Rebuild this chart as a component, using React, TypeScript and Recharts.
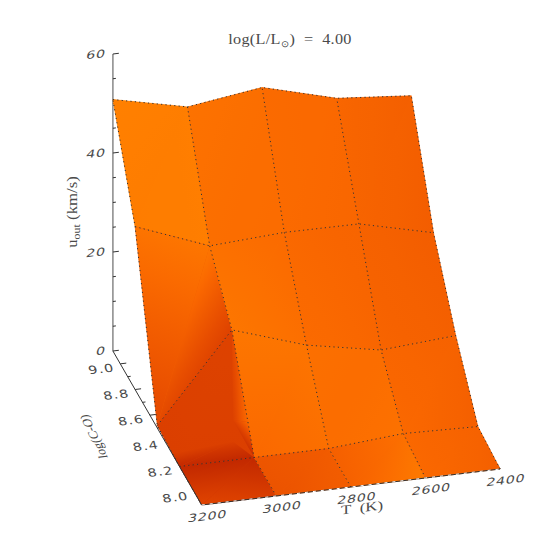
import React from "react";
import { ScatterChart, Scatter, XAxis, YAxis } from "recharts";

const temps = [3200, 3000, 2800, 2600, 2400];
const logCO = [7.9, 8.2, 8.5, 8.8, 9.1];

// outflow velocity (km/s), one list per log(C-O) row, T descending
const uRow79 = [0, 0, 0, 0, 0];
const uRow82 = [0, 0, 0, 1.2, 0.8];
const uRow85 = [0.5, 18, 13.1, 10.3, 11.4];
const uRow88 = [32.9, 27.2, 28.1, 28, 24.4];
const uRow91 = [50.8, 47.5, 49.6, 45.6, 44.3];
const uRows = [uRow79, uRow82, uRow85, uRow88, uRow91];

// lighting per facet, corners: (i,j) (i+1,j) (i+1,j+1) (i,j+1), 0 = darkest, 1 = brightest
const shadeRow0 = [[0.45, 0.35, 0.05, 0.06], [0.6, 0.7, 0.68, 0.62], [0.74, 0.95, 0.86, 0.72], [0.8, 0.72, 0.74, 0.8]];
const shadeRow1 = [[0.38, 0.38, 0.42, 0.38], [0.8, 0.86, 0.9, 0.92], [0.84, 0.88, 0.84, 0.86], [0.8, 0.72, 0.74, 0.78]];
const shadeRow2 = [[0.5, 0.42, 0.92, 0.9], [0.92, 0.86, 0.82, 0.88], [0.82, 0.78, 0.76, 0.8], [0.76, 0.72, 0.7, 0.74]];
const shadeRow3 = [[0.97, 0.98, 0.98, 1], [0.85, 0.83, 0.85, 0.88], [0.82, 0.78, 0.8, 0.82], [0.76, 0.7, 0.72, 0.78]];
const shadeRows = [shadeRow0, shadeRow1, shadeRow2, shadeRow3];

// dark band above the log(C-O)=8.2 row: T, log(C-O), u, shade
const bandLeftTop = [3200, 8.3, 0, 0.38];
const bandRightTop = [3037, 8.3, 1, 0.38];
const bandLeftEnd = [3200, 8.2, 0, 0.06];
const bandRightEnd = [3000, 8.2, 0, 0.05];

// bright strip beside the T=3000 mesh line: T, log(C-O), u, shade
const sheenTop = [3000, 8.5, 18, 0.5];
const sheenMid = [3000, 8.284, 5, 0.82];
const sheenFoot = [3037, 8.3, 5.3, 0.4];
const sheenEnd = [3000, 8.2, 0, 0.12];

const uTicks = [0, 20, 40, 60];
const uMinor = [5, 10, 15, 25, 30, 35, 45, 50, 55];
const logTicks = [8.0, 8.2, 8.4, 8.6, 8.8, 9.0];
const logMinor = [8.1, 8.3, 8.5, 8.7, 8.9];
const tempTicks = [3200, 3000, 2800, 2600, 2400];

const W = 550;
const AXIS_FONT = "'DejaVu Sans', sans-serif";
const TEXT_FONT = "'Liberation Serif', serif";
const TEXT_COLOR = "#4a4a4a";

// fixed oblique view of the (T, log(C-O), u) box
const view = (T: number, lc: number, u: number) => ({
  x: 201.7 + ((3200 - T) / 200) * 74.6 - ((lc - 7.9) / 0.3) * 22.2,
  y: 505 - ((3200 - T) / 200) * 9 - ((lc - 7.9) / 0.3) * 38.5 - u * 4.95,
});

const ramp = (s: number) => {
  const stops = [
    [0, 190, 36],
    [0.5, 228, 72],
    [0.8, 250, 104],
    [1, 255, 128],
  ];
  for (let k = 1; k < stops.length; k++) {
    if (s <= stops[k][0]) {
      const f = (s - stops[k - 1][0]) / (stops[k][0] - stops[k - 1][0]);
      const r = stops[k - 1][1] + f * (stops[k][1] - stops[k - 1][1]);
      const g = stops[k - 1][2] + f * (stops[k][2] - stops[k - 1][2]);
      return `rgb(${Math.round(r)},${Math.round(g)},0)`;
    }
  }
  return "rgb(255,128,0)";
};

const noDot = () => <g />;
const toAttr = (pts: any[]) => pts.map((q) => `${q.x},${q.y}`).join(" ");

// solid quad under each pair of triangles, hides the seam along the diagonal
const baseQuad = (id: string, pts: any[], shade: number) => (
  <Scatter
    key={id}
    data={pts}
    isAnimationActive={false}
    shape={noDot}
    line={(p: any) => <polygon points={toAttr(p.points)} fill={ramp(shade)} stroke={ramp(shade)} strokeWidth={0.5} />}
  />
);

// one shaded triangle: lighting is linear over it, so a single gradient gives the smooth look
const facet = (id: string, pts: any[], shades: number[]) => (
  <Scatter
    key={id}
    data={pts}
    isAnimationActive={false}
    shape={noDot}
    line={(p: any) => {
      const [a, b, c] = p.points;
      const [s0, s1, s2] = shades;
      const det = (b.x - a.x) * (c.y - a.y) - (c.x - a.x) * (b.y - a.y);
      const gx = ((s1 - s0) * (c.y - a.y) - (s2 - s0) * (b.y - a.y)) / det;
      const gy = ((s2 - s0) * (b.x - a.x) - (s1 - s0) * (c.x - a.x)) / det;
      const g2 = gx * gx + gy * gy;
      const lo = Math.min(s0, s1, s2);
      const hi = Math.max(s0, s1, s2);
      if (g2 < 1e-10) {
        return <polygon points={toAttr(p.points)} fill={ramp(s0)} />;
      }
      const fracs = [0, 0.25, 0.5, 0.75, 1];
      return (
        <g>
          <defs>
            <linearGradient
              id={id}
              gradientUnits="userSpaceOnUse"
              x1={a.x + (gx * (lo - s0)) / g2}
              y1={a.y + (gy * (lo - s0)) / g2}
              x2={a.x + (gx * (hi - s0)) / g2}
              y2={a.y + (gy * (hi - s0)) / g2}
            >
              {fracs.map((f) => (
                <stop key={f} offset={f} stopColor={ramp(lo + f * (hi - lo))} />
              ))}
            </linearGradient>
          </defs>
          <polygon points={toAttr(p.points)} fill={`url(#${id})`} />
        </g>
      );
    }}
  />
);

const polyline = (key: string, pts: any[], stroke: string, width = 1, dash?: string) => (
  <Scatter
    key={key}
    data={pts}
    isAnimationActive={false}
    shape={noDot}
    line={{ stroke, strokeWidth: width, strokeDasharray: dash, fill: "none" }}
  />
);

// text placed at a data point; m is the 2x2 part of the transform
const label = (key: string, at: any, text: React.ReactNode, m: number[], dx: number, dy: number, anchor: string, font: string, size: number, spacing = 0) => (
  <Scatter
    key={key}
    data={[at]}
    isAnimationActive={false}
    shape={(p: any) => (
      <text
        transform={`matrix(${m.join(" ")} ${p.cx + dx} ${p.cy + dy})`}
        textAnchor={anchor}
        fontFamily={font}
        fontSize={size}
        letterSpacing={spacing}
        fill={TEXT_COLOR}
      >
        {text}
      </text>
    )}
  />
);

const TILT = [1.3, -0.155, -0.2, 1];
const LOG_TILT = [1.3, -0.155, 0.25, 1];

export default function App() {
  const facets: React.ReactNode[] = [];
  // back to front so nearer facets cover farther ones
  for (let j = 3; j >= 0; j--) {
    for (let i = 0; i < 4; i++) {
      const corners = [
        view(temps[i], logCO[j], uRows[j][i]),
        view(temps[i + 1], logCO[j], uRows[j][i + 1]),
        view(temps[i + 1], logCO[j + 1], uRows[j + 1][i + 1]),
        view(temps[i], logCO[j + 1], uRows[j + 1][i]),
      ];
      const sh = shadeRows[j][i];
      facets.push(baseQuad(`b${j}${i}`, corners, (sh[0] + sh[1] + sh[2] + sh[3]) / 4));
      facets.push(facet(`f${j}${i}a`, [corners[0], corners[1], corners[2]], [sh[0], sh[1], sh[2]]));
      facets.push(facet(`f${j}${i}b`, [corners[0], corners[2], corners[3]], [sh[0], sh[2], sh[3]]));
    }
  }
  const patch = (id: string, vs: number[][]) =>
    facet(id, vs.map((v) => view(v[0], v[1], v[2])), vs.map((v) => v[3]));
  facets.push(patch("band1", [bandLeftTop, bandRightTop, bandLeftEnd]));
  facets.push(patch("band2", [bandRightTop, bandRightEnd, bandLeftEnd]));
  facets.push(patch("sheen1", [sheenTop, sheenMid, sheenFoot]));
  facets.push(patch("sheen2", [sheenMid, sheenEnd, sheenFoot]));

  const mesh: React.ReactNode[] = [];
  logCO.forEach((lc, j) => {
    if (j > 0) mesh.push(polyline(`row${j}`, temps.map((T, i) => view(T, lc, uRows[j][i])), "#333", 1, "1.2 3.2"));
  });
  temps.forEach((T, i) => {
    mesh.push(polyline(`col${i}`, logCO.map((lc, j) => view(T, lc, uRows[j][i])), "#333", 1, "1.2 3.2"));
  });
  mesh.push(polyline("logEdge", [view(3200, 9.1, 0), view(3200, 7.9, 0)], "#333", 1));
  mesh.push(polyline("tEdge", [view(3200, 7.9, 0), view(2400, 7.9, 0)], "#333", 1));
  mesh.push(polyline("tEdgeDash", [view(3200, 7.9, 0), view(2400, 7.9, 0)], "#fff", 1, "3 5"));

  const axes: React.ReactNode[] = [
    polyline("uAxis", [view(3200, 9.1, 0), view(3200, 9.1, 60)], "#888", 1.5),
  ];
  uTicks.forEach((u) => axes.push(polyline(`ut${u}`, [view(3200, 9.1, u), view(3184, 9.1, u)], "#333")));
  uMinor.forEach((u) => axes.push(polyline(`um${u}`, [view(3200, 9.1, u), view(3192, 9.1, u)], "#333")));
  logTicks.forEach((l) => axes.push(polyline(`lt${l}`, [view(3200, l, 0), view(3184, l, 0)], "#333")));
  logMinor.forEach((l) => axes.push(polyline(`lm${l}`, [view(3200, l, 0), view(3192, l, 0)], "#333")));
  tempTicks.forEach((T) => axes.push(polyline(`tt${T}`, [view(T, 7.9, 0), view(T, 7.93, 0)], "#333")));

  const labels: React.ReactNode[] = [];
  uTicks.forEach((u) => labels.push(label(`ul${u}`, view(3200, 9.1, u), String(u), TILT, -8, 3, "end", AXIS_FONT, 11, 0.5)));
  logTicks.forEach((l) => labels.push(label(`ll${l}`, view(3200, l, 0), l.toFixed(1), LOG_TILT, -18, 9, "middle", AXIS_FONT, 11, 0.8)));
  tempTicks.forEach((T) => labels.push(label(`tl${T}`, view(T, 7.9, 0), String(T), TILT, 5, 15, "middle", AXIS_FONT, 11, 0.5)));

  return (
    <div style={{ position: "absolute", left: 0, top: 0, width: W, height: W }}>
      <ScatterChart width={W} height={W} margin={{ top: 0, right: 0, bottom: 0, left: 0 }}>
        <XAxis type="number" dataKey="x" domain={[0, W]} hide />
        <YAxis type="number" dataKey="y" domain={[0, W]} reversed hide />
        {axes}
        {facets}
        {mesh}
        {labels}
        {label(
          "title",
          { x: 290, y: 44 },
          <>
            log(L/L<tspan fontSize={9} dy={3}>⊙</tspan>
            <tspan dy={-3}>){"\u00a0\u00a0=\u00a0\u00a0"}4.00</tspan>
          </>,
          [1.08, 0, 0, 1],
          0,
          0,
          "middle",
          TEXT_FONT,
          15,
          0.3
        )}
        {label(
          "uTitle",
          { x: 77, y: 212 },
          <>
            u<tspan fontSize={10} dy={3}>out</tspan>
            <tspan dy={-3}> (km/s)</tspan>
          </>,
          [0, -1.2, 1.05, 0],
          0,
          0,
          "middle",
          TEXT_FONT,
          14
        )}
        {label("logTitle", { x: 98, y: 436 }, "log(C-O)", [-0.42, -0.91, 0.99, -0.12], 0, 0, "middle", TEXT_FONT, 13)}
        {label("tTitle", { x: 362, y: 512 }, "T\u00a0\u00a0(K)", [1.3, -0.15, 0, 1], 0, 0, "middle", TEXT_FONT, 13)}
      </ScatterChart>
    </div>
  );
}
